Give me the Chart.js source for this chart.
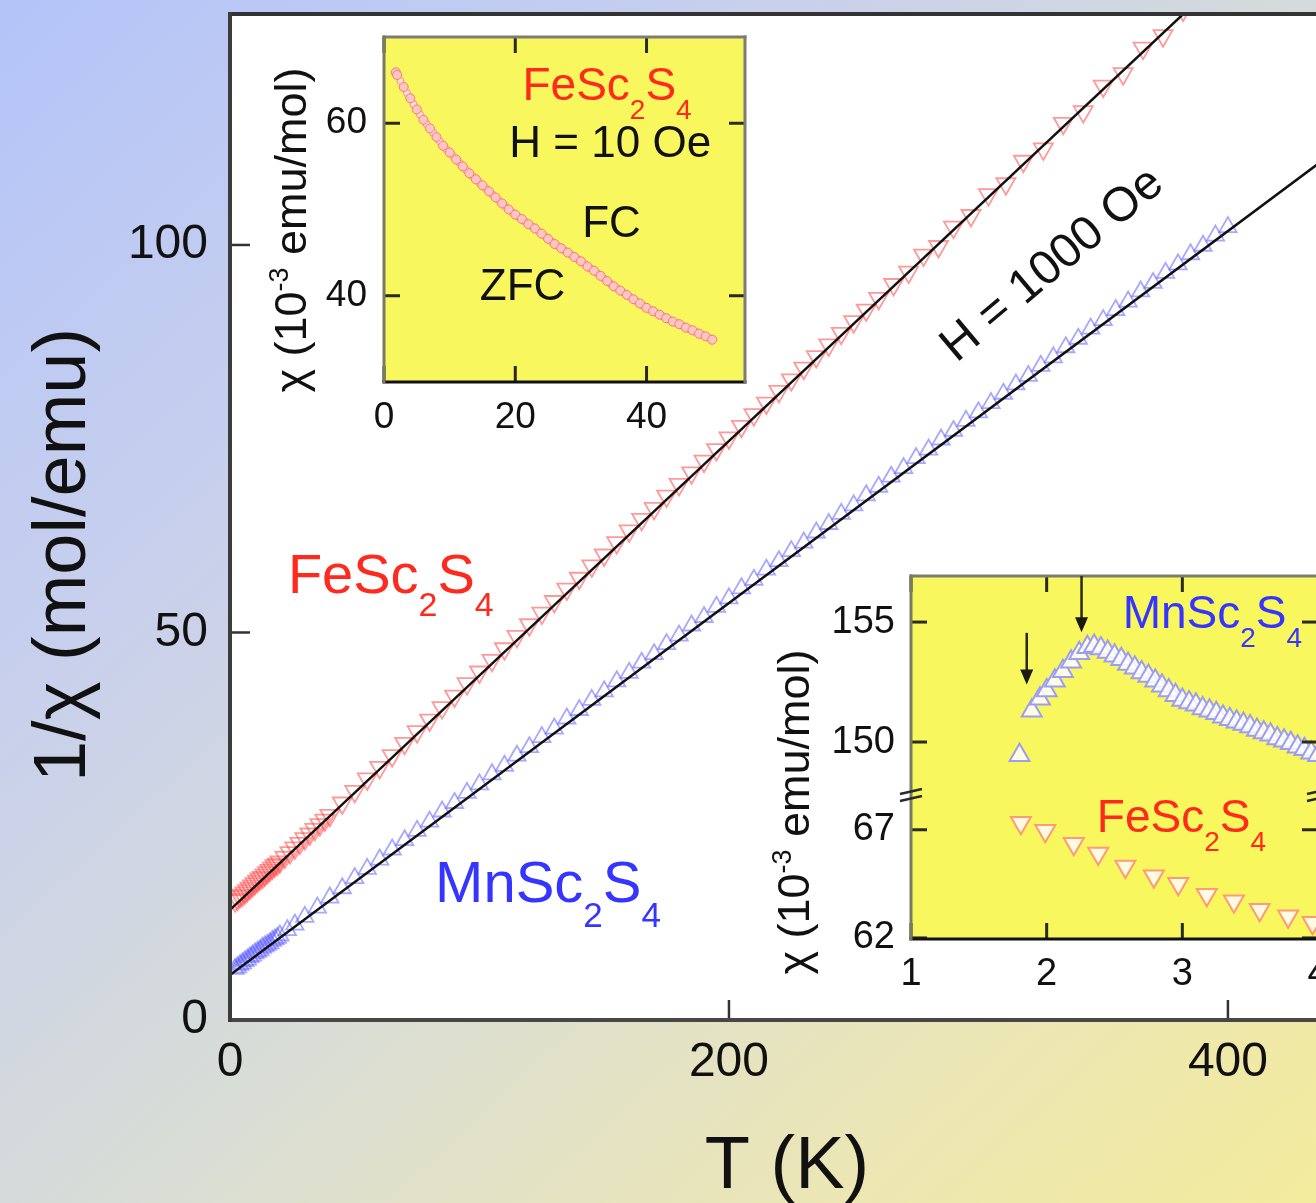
<!DOCTYPE html>
<html lang="en">
<head>
<meta charset="UTF-8">
<title>1/chi vs T - FeSc2S4 and MnSc2S4</title>
<script src="https://cdn.jsdelivr.net/npm/chart.js"></script>
<style>
  html, body { margin: 0; padding: 0; width: 1316px; height: 1203px; overflow: hidden; }
  #page {
    position: relative; width: 1316px; height: 1203px; overflow: hidden;
    background: linear-gradient(to bottom right, #b4c4f9 0%, #c8d0ec 30%, #d9ddd6 55%, #ebe6b6 80%, #f3eb9c 100%);
  }
  canvas { position: absolute; }
</style>
</head>
<body>
<div id="page">
  <canvas id="mainChart" width="1316" height="1203" style="left:0;top:0"></canvas>
  <canvas id="fcChart" width="520" height="440" style="left:240px;top:20px"></canvas>
  <canvas id="peakTop" width="580" height="233" style="left:760px;top:560px"></canvas>
  <canvas id="peakBottom" width="580" height="230" style="left:760px;top:770px"></canvas>
</div>
<script>
// ---- main panel: 1/chi (mol/emu) vs T (K), H = 1000 Oe ----
const feT = [2, 3, 4, 5, 6, 7, 8, 9, 10, 11, 12, 13, 14, 15, 16, 17, 18, 19, 20, 22, 24, 26, 28, 30, 32, 34, 36, 38, 40,
  45, 50, 55, 60, 65, 70, 75, 80, 85, 90, 95, 100, 105, 110, 115, 120, 125, 130, 135, 140,
  145, 150, 155, 160, 165, 170, 175, 180, 185, 190, 195, 200, 205, 210, 215, 220, 225, 230,
  235, 240, 245, 250, 255, 260, 266, 272, 278, 284, 290, 297, 304, 311, 318, 326, 334, 342,
  350, 358, 366, 374, 382, 390];
const feInvChi = [15.4, 15.6, 15.9, 16.1, 16.4, 16.7, 17.0, 17.3, 17.6, 17.9, 18.2, 18.4, 18.7, 19.0, 19.3, 19.6, 19.9, 20.1, 20.4, 21.0, 21.6, 22.2, 22.8, 23.4, 24.0, 24.6, 25.2, 25.8, 26.4,
  28.0, 29.5, 31.1, 32.6, 34.1, 35.7, 37.2, 38.7, 40.3, 41.8, 43.4, 44.9, 46.4, 47.9, 49.5, 51.0, 52.5, 54.0, 55.6, 57.0,
  58.6, 60.0, 61.6, 63.1, 64.6, 66.0, 67.6, 69.1, 70.6, 72.1, 73.6, 75.1, 76.6, 78.1, 79.6, 81.1, 82.6, 84.1,
  85.6, 87.1, 88.6, 90.1, 91.6, 93.1, 94.9, 96.5, 98.7, 99.8, 102.3, 103.8, 106.5, 107.9, 110.8, 112.4, 115.7, 117.2,
  120.5, 122.1, 125.4, 127.0, 130.3, 132.0];

const mnT = [2, 3, 4, 5, 6, 7, 8, 9, 10, 11, 12, 13, 14, 15, 16, 17, 18, 19, 20, 23, 26, 30, 35, 40, 45, 50, 55, 60, 65, 70, 75, 80, 85, 90, 95,
  100, 105, 110, 115, 120, 125, 130, 135, 140, 145, 150, 155, 160, 165, 170, 175, 180, 185, 190, 195,
  200, 205, 210, 215, 220, 225, 230, 235, 240, 245, 250, 255, 260, 265, 270, 275, 280, 285, 290, 295,
  300, 305, 310, 315, 320, 325, 330, 335, 340, 345, 350, 355, 360, 365, 370, 375, 380, 385, 390, 395, 400];
const mnInvChi = [6.6, 6.8, 7.1, 7.3, 7.6, 7.8, 8.1, 8.3, 8.6, 8.8, 9.0, 9.3, 9.5, 9.7, 9.9, 10.2, 10.4, 10.6, 10.9, 11.6, 12.3, 13.3, 14.5, 15.8, 17.0, 18.3, 19.5, 20.7, 22.0, 23.2, 24.4, 25.6, 26.9, 28.0, 29.3,
  30.4, 31.7, 32.8, 34.1, 35.2, 36.5, 37.6, 38.9, 40.0, 41.3, 42.4, 43.7, 44.8, 46.1, 47.2, 48.5, 49.6, 50.9, 52.0, 53.3,
  54.4, 55.7, 56.8, 58.1, 59.2, 60.5, 61.6, 62.9, 64.0, 65.3, 66.4, 67.7, 68.8, 70.1, 71.2, 72.5, 73.6, 74.9, 76.0, 77.3,
  78.4, 79.6, 80.8, 82.0, 83.1, 84.4, 85.5, 86.8, 87.9, 89.2, 90.3, 91.6, 92.7, 94.0, 95.1, 96.4, 97.5, 98.8, 99.9, 101.2, 102.3];

// Curie-Weiss fit lines (end points)
const feFitT = [0, 395];
const feFitInv = [14.2, 133.7];
const mnFitT = [0, 440];
const mnFitInv = [5.8, 111.4];

const mainXTicks = [0, 50, 100, 150, 200, 250, 300, 350, 400];
const mainXLabels = [0, 200, 400];
const mainYTicks = [0, 25, 50, 75, 100, 125];
const mainYLabels = [0, 50, 100];

// ---- upper inset: chi (1e-3 emu/mol) vs T, H = 10 Oe ----
const zfcT = [1.8, 2, 3, 4, 5, 6, 7, 8, 9, 10, 11, 12, 13, 14, 15, 16, 17, 18, 19, 20, 21, 22, 23, 24, 25,
  26, 27, 28, 29, 30, 31, 32, 33, 34, 35, 36, 37, 38, 39, 40, 41, 42, 43, 44, 45, 46, 47, 48, 49, 50];
const zfcChi = [65.9, 65.6, 64.2, 62.9, 61.6, 60.4, 59.4, 58.4, 57.4, 56.6, 55.8, 55.0, 54.2, 53.5, 52.8, 52.1, 51.4, 50.7, 50.0, 49.4, 48.9, 48.3, 47.8, 47.2, 46.6,
  46.0, 45.5, 45.0, 44.5, 44.0, 43.4, 42.9, 42.3, 41.7, 41.1, 40.6, 40.1, 39.6, 39.1, 38.6, 38.2, 37.8, 37.4, 37.0, 36.7, 36.3, 36.0, 35.6, 35.3, 34.9];
const fcT = [2.5, 3.5, 4.5, 5.5, 6.5, 7.5, 8.5, 9.5, 10.5, 11.5, 12.5, 13.5, 14.5, 15.5, 16.5, 17.5, 18.5, 19.5, 20.5, 21.5, 22.5, 23.5, 24.5,
  25.5, 26.5, 27.5, 28.5, 29.5, 30.5, 31.5, 32.5, 33.5, 34.5, 35.5, 36.5, 37.5, 38.5, 39.5, 40.5, 41.5, 42.5, 43.5, 44.5, 45.5, 46.5, 47.5, 48.5, 49.5];
const fcChi = [64.9, 63.5, 62.2, 61.0, 59.9, 58.9, 57.9, 57.0, 56.2, 55.4, 54.6, 53.85, 53.15, 52.45, 51.75, 51.05, 50.35, 49.7, 49.15, 48.6, 48.05, 47.5, 46.9,
  46.3, 45.75, 45.25, 44.75, 44.25, 43.7, 43.15, 42.6, 42.0, 41.4, 40.85, 40.35, 39.85, 39.35, 38.85, 38.4, 38.0, 37.6, 37.2, 36.85, 36.5, 36.15, 35.8, 35.45, 35.1];
const fcXTicks = [0, 10, 20, 30, 40, 50];
const fcXLabels = [0, 20, 40];
const fcYTicks = [40, 50, 60];
const fcYLabels = [40, 60];

// ---- lower inset: chi (1e-3 emu/mol) vs T, broken axis ----
const mnLowT = [1.80, 1.89, 1.95, 2.00, 2.06, 2.12, 2.18, 2.24, 2.30, 2.35, 2.40, 2.45, 2.50, 2.55, 2.60, 2.65, 2.70, 2.75, 2.80,
  2.85, 2.90, 2.95, 3.00, 3.05, 3.10, 3.15, 3.20, 3.25, 3.30, 3.35, 3.40, 3.45, 3.50, 3.55, 3.60, 3.65, 3.70, 3.75, 3.80, 3.85, 3.90, 3.95, 4.00];
const mnLowChi = [149.45, 151.3, 151.8, 152.15, 152.55, 152.95, 153.35, 153.7, 153.95, 154.0, 153.9, 153.75, 153.6, 153.45, 153.25, 153.1, 152.9, 152.75, 152.55,
  152.35, 152.15, 151.95, 151.75, 151.65, 151.55, 151.4, 151.3, 151.2, 151.05, 150.95, 150.85, 150.75, 150.65, 150.5, 150.4, 150.3, 150.15, 150.05, 149.95, 149.8, 149.7, 149.55, 149.45];
const feLowT = [1.81, 1.99, 2.20, 2.38, 2.58, 2.79, 2.97, 3.18, 3.38, 3.57, 3.78, 3.96];
const feLowChi = [67.33, 66.95, 66.35, 65.9, 65.3, 64.85, 64.5, 64.0, 63.7, 63.3, 63.0, 62.7];
const lowXTicks = [1, 1.5, 2, 2.5, 3, 3.5, 4];
const lowXLabels = [1, 2, 3, 4];
const lowTopTicks = [150, 152.5, 155];
const lowTopLabels = [150, 155];
const lowBotTicks = [62, 64.5, 67];
const lowBotLabels = [62, 67];

const FONT = '"Liberation Sans", Arial, Helvetica, sans-serif';
const RED = '#ff2a1e';
const BLUE = '#3535ff';
const FE = [['FeSc', 0], ['2', 1], ['S', 0], ['4', 1]];
const MN = [['MnSc', 0], ['2', 1], ['S', 0], ['4', 1]];
const CHI_LABEL = [['\u03c7 (10', 0], ['-3', 2], [' emu/mol)', 0]];

const pts = (xs, ys) => xs.map((x, i) => ({ x: x, y: ys[i] }));

// text with sub/superscripts; kind 0 normal, 1 subscript, 2 superscript
function drawRich(ctx, x, y, parts, size, color, align, valign) {
  const font = k => (k ? Math.round(size * 0.6) : size) + 'px ' + FONT;
  ctx.save();
  ctx.fillStyle = color;
  ctx.textAlign = 'left';
  ctx.textBaseline = 'alphabetic';
  let w = 0;
  parts.forEach(([t, k]) => { ctx.font = font(k); w += ctx.measureText(t).width; });
  let cx = align === 'center' ? x - w / 2 : x;
  const by = valign === 'middle' ? y + size * 0.36 : y;
  parts.forEach(([t, k]) => {
    ctx.font = font(k);
    const dy = k === 1 ? size * 0.42 : (k === 2 ? -size * 0.4 : 0);
    ctx.fillText(t, cx, by + dy);
    cx += ctx.measureText(t).width;
  });
  ctx.restore();
}

function notesPlugin(items) {
  return {
    id: 'notes',
    afterDatasetsDraw(chart) {
      const ctx = chart.ctx;
      items.forEach(n => {
        let x = n.x, y = n.y;
        if (!n.px) {
          x = chart.scales.x.getPixelForValue(n.x);
          y = chart.scales.y.getPixelForValue(n.y);
        }
        ctx.save();
        ctx.translate(x, y);
        if (n.rot) ctx.rotate(n.rot * Math.PI / 180);
        drawRich(ctx, 0, 0, n.parts, n.size, n.color || '#111', n.align, n.valign);
        ctx.restore();
      });
    }
  };
}

function line(ctx, x1, y1, x2, y2) {
  ctx.beginPath(); ctx.moveTo(x1, y1); ctx.lineTo(x2, y2); ctx.stroke();
}

// plot background, frame and inward ticks
function framePlugin(cfg) {
  return {
    id: 'frame',
    beforeDatasetsDraw(chart) {
      const { ctx, chartArea: a } = chart;
      ctx.save();
      ctx.fillStyle = cfg.fill;
      ctx.fillRect(a.left, a.top, a.right - a.left, a.bottom - a.top);
      ctx.restore();
    },
    afterDatasetsDraw(chart) {
      const { ctx, chartArea: a, scales } = chart;
      const xs = scales.x, ys = scales.y;
      ctx.save();
      ctx.strokeStyle = cfg.tickColor;
      ctx.lineWidth = cfg.tickWidth;
      xs.ticks.forEach(t => {
        const p = xs.getPixelForValue(t.value);
        const len = cfg.xMajor.includes(t.value) ? cfg.major : cfg.minor;
        if (cfg.ticks.includes('bottom')) line(ctx, p, a.bottom, p, a.bottom - len);
        if (cfg.ticks.includes('top')) line(ctx, p, a.top, p, a.top + len);
      });
      ys.ticks.forEach(t => {
        const p = ys.getPixelForValue(t.value);
        const len = cfg.yMajor.includes(t.value) ? cfg.major : cfg.minor;
        if (cfg.ticks.includes('left')) line(ctx, a.left, p, a.left + len, p);
        if (cfg.ticks.includes('right')) line(ctx, a.right, p, a.right - len, p);
      });
      const h = cfg.width / 2;
      ctx.lineWidth = cfg.width;
      const s = cfg.sides;
      if (s.top) { ctx.strokeStyle = s.top; line(ctx, a.left - h, a.top, a.right + h, a.top); }
      if (s.bottom) { ctx.strokeStyle = s.bottom; line(ctx, a.left - h, a.bottom, a.right + h, a.bottom); }
      if (s.left) { ctx.strokeStyle = s.left; line(ctx, a.left, a.top - h, a.left, a.bottom + h); }
      if (s.right) { ctx.strokeStyle = s.right; line(ctx, a.right, a.top - h, a.right, a.bottom + h); }
      ctx.restore();
    }
  };
}

function linScale(min, max, tickList, labelList, size, pad, fit) {
  return {
    type: 'linear', min: min, max: max,
    grid: { display: false, drawTicks: false },
    border: { display: false },
    afterBuildTicks: sc => { sc.ticks = tickList.map(v => ({ value: v })); },
    afterFit: fit,
    ticks: {
      autoSkip: false, maxRotation: 0, padding: pad, color: '#111',
      font: { family: FONT, size: size },
      callback: v => labelList.includes(v) ? String(v) : null
    }
  };
}
const fixX = hgt => sc => { sc.height = hgt; sc.paddingLeft = 0; sc.paddingRight = 0; };
const fixY = wid => sc => { sc.width = wid; sc.paddingTop = 0; sc.paddingBottom = 0; };

const base = {
  responsive: false,
  animation: false,
  events: [],
  plugins: { legend: { display: false }, tooltip: { enabled: false } }
};
const pad = (l, t, r, b) => ({ autoPadding: false, padding: { left: l, top: t, right: r, bottom: b } });

// main chart
new Chart(document.getElementById('mainChart'), {
  type: 'scatter',
  data: {
    datasets: [
      { data: pts(feFitT, feFitInv), showLine: true, borderColor: '#111', borderWidth: 2.5, pointRadius: 0, order: 0, clip: 0 },
      { data: pts(mnFitT, mnFitInv), showLine: true, borderColor: '#111', borderWidth: 2.5, pointRadius: 0, order: 0, clip: 0 },
      { data: pts(feT, feInvChi), pointStyle: 'triangle', pointRotation: 180, pointRadius: 11,
        pointBorderColor: 'rgba(255,70,70,0.55)', pointBackgroundColor: 'rgba(255,255,255,0)', pointBorderWidth: 1.8, order: 1, clip: 0 },
      { data: pts(mnT, mnInvChi), pointStyle: 'triangle', pointRadius: 10,
        pointBorderColor: 'rgba(80,80,255,0.5)', pointBackgroundColor: 'rgba(255,255,255,0)', pointBorderWidth: 1.8, order: 1, clip: 0 }
    ]
  },
  options: Object.assign({}, base, {
    layout: pad(0, 14, 0, 0),
    scales: {
      x: linScale(0, 435.3, mainXTicks, mainXLabels, 48, 14, fixX(183)),
      y: linScale(0, 129.8, mainYTicks, mainYLabels, 48, 22, fixY(230))
    }
  }),
  plugins: [
    framePlugin({ fill: '#ffffff', sides: { top: '#333', left: '#3c3c3c', bottom: '#474747' }, width: 4,
      ticks: ['bottom', 'left'], xMajor: mainXLabels, yMajor: mainYLabels, major: 20, minor: 12, tickWidth: 2.5, tickColor: '#333' }),
    notesPlugin([
      { x: 23.2, y: 55.1, parts: FE, size: 56, color: RED },
      { x: 82.2, y: 15.2, parts: MN, size: 58, color: BLUE },
      { x: 328.7, y: 97.8, parts: [['H = 1000 Oe', 0]], size: 48, rot: -40, align: 'center', valign: 'middle' },
      { px: true, x: 58, y: 555, parts: [['1/\u03c7 (mol/emu)', 0]], size: 74, rot: -90, align: 'center', valign: 'middle' },
      { px: true, x: 787, y: 1188, parts: [['T (K)', 0]], size: 74, align: 'center' },
      { px: true, x: 290, y: 230, parts: CHI_LABEL, size: 45, rot: -90, align: 'center', valign: 'middle' },
      { px: true, x: 793, y: 812, parts: CHI_LABEL, size: 45, rot: -90, align: 'center', valign: 'middle' }
    ])
  ]
});

// upper inset (ZFC / FC, H = 10 Oe)
new Chart(document.getElementById('fcChart'), {
  type: 'scatter',
  data: {
    datasets: [
      { data: pts(zfcT, zfcChi), pointRadius: 4.5, pointBackgroundColor: '#ffc6c6', pointBorderColor: '#ff7777', pointBorderWidth: 1, clip: 0 },
      { data: pts(fcT, fcChi), pointRadius: 3.5, pointBackgroundColor: '#ffe0e0', pointBorderColor: '#ff8a8a', pointBorderWidth: 1, clip: 0 }
    ]
  },
  options: Object.assign({}, base, {
    layout: pad(0, 17, 15, 0),
    scales: {
      x: linScale(0, 55, fcXTicks, fcXLabels, 37, 14, fixX(78)),
      y: linScale(30, 70, fcYTicks, fcYLabels, 37, 17, fixY(144))
    }
  }),
  plugins: [
    framePlugin({ fill: '#f8f75e', sides: { top: '#7c7c74', left: '#7a7a62', right: '#7c7c74', bottom: '#111' }, width: 3,
      ticks: ['bottom', 'top', 'left', 'right'], xMajor: fcXLabels, yMajor: fcYLabels, major: 16, minor: 9, tickWidth: 3, tickColor: '#2a2a20' }),
    notesPlugin([
      { x: 21.1, y: 62.7, parts: FE, size: 46, color: RED },
      { x: 19.1, y: 56.1, parts: [['H = 10 Oe', 0]], size: 44 },
      { x: 30.2, y: 46.8, parts: [['FC', 0]], size: 44 },
      { x: 14.6, y: 39.5, parts: [['ZFC', 0]], size: 44 }
    ])
  ]
});

// lower inset, upper segment (MnSc2S4) with the two transition arrows
const arrowPlugin = {
  id: 'arrows',
  afterDatasetsDraw(chart) {
    const { ctx, scales } = chart;
    [[1.853, 154.55, 152.4], [2.257, 156.92, 154.58]].forEach(([t, y0, y1]) => {
      const x = scales.x.getPixelForValue(t);
      const p0 = scales.y.getPixelForValue(y0), p1 = scales.y.getPixelForValue(y1);
      ctx.save();
      ctx.strokeStyle = '#2a2a1a'; ctx.fillStyle = '#1a1a12'; ctx.lineWidth = 2.5;
      line(ctx, x, p0, x, p1 - 10);
      ctx.beginPath(); ctx.moveTo(x - 6.5, p1 - 15); ctx.lineTo(x + 6.5, p1 - 15); ctx.lineTo(x, p1); ctx.closePath(); ctx.fill();
      ctx.restore();
    });
  }
};
new Chart(document.getElementById('peakTop'), {
  type: 'scatter',
  data: {
    datasets: [
      { data: pts(mnLowT, mnLowChi), pointStyle: 'triangle', pointRadius: 11.5,
        pointBackgroundColor: 'rgba(255,255,255,0.85)', pointBorderColor: '#9d9df2', pointBorderWidth: 2, clip: 0 }
    ]
  },
  options: Object.assign({}, base, {
    layout: pad(0, 16, 22, 0),
    scales: {
      x: Object.assign(linScale(1, 4, lowXTicks, lowXLabels, 38, 14, fixX(0)), { display: false }),
      y: linScale(147.875, 156.92, lowTopTicks, lowTopLabels, 38, 16, fixY(151))
    }
  }),
  plugins: [
    framePlugin({ fill: '#f8f75e', sides: { top: '#7c7c74', left: '#7a7a62', right: '#7c7c74' }, width: 3,
      ticks: ['top', 'left', 'right'], xMajor: lowXLabels, yMajor: lowTopLabels, major: 16, minor: 9, tickWidth: 3, tickColor: '#2a2a20' }),
    arrowPlugin,
    notesPlugin([{ x: 2.56, y: 154.75, parts: MN, size: 46, color: BLUE }])
  ]
});

// lower inset, lower segment (FeSc2S4) with axis-break marks
const breakPlugin = {
  id: 'breaks',
  afterDraw(chart) {
    const { ctx, chartArea: a } = chart;
    ctx.save();
    ctx.strokeStyle = '#2a2a2a'; ctx.lineWidth = 2.5;
    [a.left, a.right].forEach(x => {
      line(ctx, x - 11, a.top + 1, x + 11, a.top - 4);
      line(ctx, x - 11, a.top + 8, x + 11, a.top + 3);
    });
    ctx.restore();
  }
};
new Chart(document.getElementById('peakBottom'), {
  type: 'scatter',
  data: {
    datasets: [
      { data: pts(feLowT, feLowChi), pointStyle: 'triangle', pointRotation: 180, pointRadius: 11.5,
        pointBackgroundColor: 'rgba(255,250,240,0.9)', pointBorderColor: '#ff9a78', pointBorderWidth: 2, clip: 0 }
    ]
  },
  options: Object.assign({}, base, {
    layout: pad(0, 23, 22, 0),
    scales: {
      x: linScale(1, 4, lowXTicks, lowXLabels, 38, 13, fixX(61)),
      y: linScale(61.95, 68.7, lowBotTicks, lowBotLabels, 38, 16, fixY(151))
    }
  }),
  plugins: [
    framePlugin({ fill: '#f8f75e', sides: { bottom: '#111', left: '#7a7a62', right: '#7c7c74' }, width: 3,
      ticks: ['bottom', 'left', 'right'], xMajor: lowXLabels, yMajor: lowBotLabels, major: 16, minor: 9, tickWidth: 3, tickColor: '#2a2a20' }),
    breakPlugin,
    notesPlugin([{ x: 2.37, y: 66.9, parts: FE, size: 46, color: RED }])
  ]
});
</script>
</body>
</html>
